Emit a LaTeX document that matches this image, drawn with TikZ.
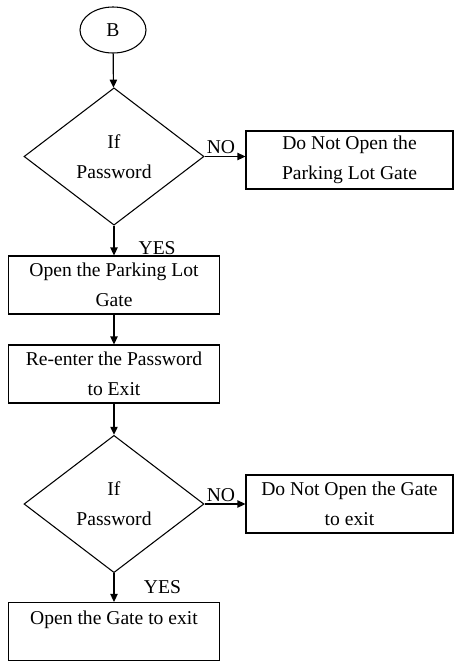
\documentclass[tikz,border=0pt]{standalone}
\usepackage{fontspec}
\setmainfont{Liberation Serif}
\usetikzlibrary{shapes.geometric, arrows.meta}

\begin{document}
\begin{tikzpicture}[x=0.75pt, y=-0.75pt,
    every node/.style={font=\fontsize{14.7}{22.5}\selectfont},
    terminal/.style={ellipse, draw, line width=0.8pt, minimum width=49.5pt, minimum height=34.5pt, inner sep=0pt},
    decision/.style={diamond, draw, line width=0.8pt, aspect=1.3, inner sep=0pt, minimum width=135pt, minimum height=103pt, align=center},
    process/.style={rectangle, draw, line width=0.8pt, minimum width=158.25pt, minimum height=43.5pt, inner sep=0pt, align=center},
    refuse/.style={process, minimum width=155.25pt},
    answer/.style={inner sep=0pt},
    flow/.style={-{Triangle[length=6pt, width=5.5pt]}, line width=0.9pt}]
    \useasboundingbox (0,0) rectangle (454,662);

    % Draw the start terminal and the first check
    \node[terminal] (Start) at (113,30) {B};
    \node[decision] (Check1) at (114,156.5) {If\\Password};
    \node[refuse] (Deny1) at (349.5,160) {Do Not Open the\\Parking Lot Gate};

    % Draw the entry steps
    \node[process] (Open1) at (114,285) {Open the Parking Lot\\Gate};
    \node[process] (Reenter) at (114,374) {Re-enter the Password\\to Exit};

    % Draw the second check and the exit steps
    \node[decision] (Check2) at (114,504) {If\\Password};
    \node[refuse] (Deny2) at (349.5,504) {Do Not Open the Gate\\to exit};
    \node[process, text depth=20pt] (Open2) at (114,631.5) {Open the Gate to exit};

    % Connect the nodes
    \draw[flow] (Start) -- (Check1);
    \draw[flow] (Check1.east) -- node[answer, above, pos=0.4, yshift=2pt] {NO} (Check1.east -| Deny1.west);
    \draw[flow] (Check1.south) -- node[answer, right, pos=0.74, xshift=18pt] {YES} (Open1.north);
    \draw[flow] (Open1) -- (Reenter);
    \draw[flow] (Reenter) -- (Check2);
    \draw[flow] (Check2.east) -- node[answer, above, pos=0.4, yshift=1.5pt] {NO} (Deny2.west);
    \draw[flow] (Check2.south) -- node[answer, right, pos=0.5, xshift=22pt] {YES} (Open2.north);

\end{tikzpicture}
\end{document}
